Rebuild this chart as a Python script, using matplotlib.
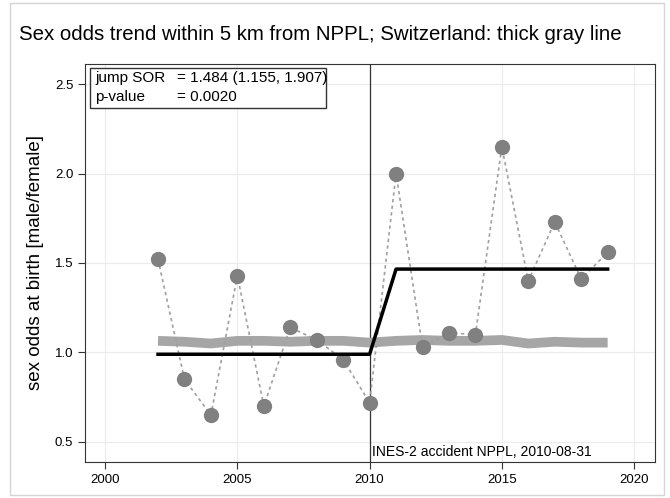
import matplotlib.pyplot as plt
from matplotlib.patches import Rectangle
import numpy as np

plt.rcParams['font.family'] = ['Liberation Sans', 'DejaVu Sans']

years = np.arange(2002, 2020)
sex_odds = [1.52, 0.85, 0.65, 1.43, 0.70, 1.14, 1.07, 0.96, 0.72,
            2.00, 1.03, 1.11, 1.10, 2.15, 1.40, 1.73, 1.41, 1.56]
swiss = [1.065, 1.06, 1.05, 1.065, 1.065, 1.06, 1.065, 1.065, 1.055,
         1.065, 1.07, 1.065, 1.065, 1.07, 1.05, 1.06, 1.055, 1.055]
fit_years = [2002, 2010, 2011, 2019]
fit_vals = [0.99, 0.99, 1.466, 1.466]
accident_year = 2010

fig = plt.figure(figsize=(6.7, 4.98), dpi=100)
# faint outer border of the picture
fig.patches.append(Rectangle((0.015, 0.006), 0.976, 0.988, transform=fig.transFigure,
                             fill=False, edgecolor='#d5d5d5', linewidth=1))
ax = fig.add_axes([0.1269, 0.0723, 0.8507, 0.7992])

ax.grid(True, color='#ebebeb', linewidth=0.8)
ax.set_axisbelow(True)

ax.plot(years, swiss, color='#a6a6a6', linewidth=7, solid_capstyle='butt', zorder=2)
ax.plot(years, sex_odds, color='#a0a0a0', linestyle=(0, (2, 2)), linewidth=1.2, zorder=3)
ax.plot(years, sex_odds, 'o', color='#808080', markersize=11, markeredgewidth=0, zorder=4)
ax.plot(fit_years, fit_vals, color='black', linewidth=2.5, zorder=5)
ax.axvline(accident_year, color='#333333', linewidth=0.9, zorder=1)

ax.text(accident_year + 0.1, 0.445, 'INES-2 accident NPPL, 2010-08-31', fontsize=10, va='center', ha='left')

# stats box
ax.add_patch(Rectangle((0.0088, 0.889), 0.414, 0.101, transform=ax.transAxes,
                       facecolor='white', edgecolor='#333333', linewidth=1, zorder=6))
ax.text(0.0175, 0.965, 'jump SOR', transform=ax.transAxes, fontsize=11, va='center', zorder=7)
ax.text(0.161, 0.965, '= 1.484 (1.155, 1.907)', transform=ax.transAxes, fontsize=11, va='center', zorder=7)
ax.text(0.0175, 0.917, 'p-value', transform=ax.transAxes, fontsize=11, va='center', zorder=7)
ax.text(0.161, 0.917, '= 0.0020', transform=ax.transAxes, fontsize=11, va='center', zorder=7)

ax.set_xlim(1999.24, 2020.79)
ax.set_ylim(0.388, 2.612)
ax.set_xticks([2000, 2005, 2010, 2015, 2020])
ax.set_yticks([0.5, 1.0, 1.5, 2.0, 2.5])
ax.set_yticklabels(['0.5', '1.0', '1.5', '2.0', '2.5'])
ax.tick_params(labelsize=9.5, length=5, colors='#333333', labelcolor='black')
ax.set_ylabel('sex odds at birth [male/female]', fontsize=13.5, labelpad=8)
for s in ax.spines.values():
    s.set_color('#333333')

fig.text(0.028, 0.93, 'Sex odds trend within 5 km from NPPL; Switzerland: thick gray line',
         fontsize=14.7, va='center')

fig.savefig('out.png')
